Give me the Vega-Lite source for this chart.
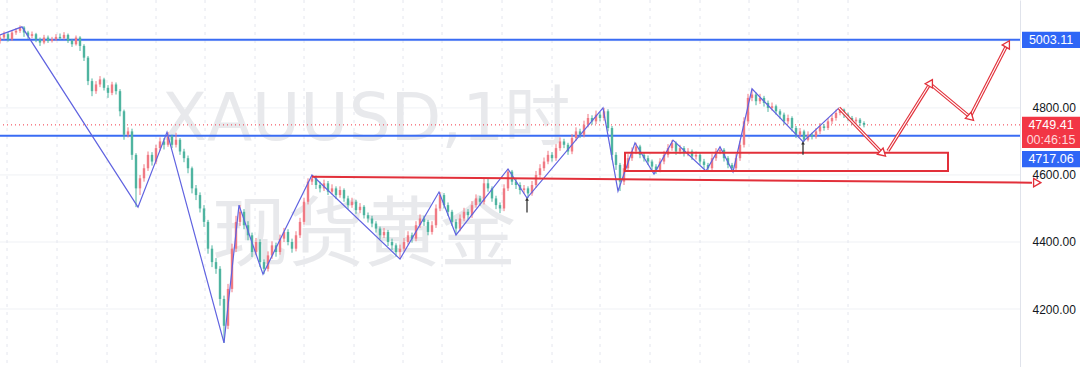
{
  "$schema": "https://vega.github.io/schema/vega-lite/v6.json",
  "width": 1020,
  "height": 367,
  "autosize": "none",
  "padding": {"left": 0, "top": 0, "right": 60, "bottom": 0},
  "background": "#ffffff",
  "config": {"view": {"stroke": null}},
  "datasets": {
    "candles": [
      {"t":0,"o":5000,"c":5010,"h":5018,"l":4992},{"t":1,"o":5010,"c":5020,"h":5028,"l":5004},{"t":2,"o":5020,"c":5005,"h":5026,"l":4998},{"t":3,"o":5005,"c":5025,"h":5032,"l":5000},{"t":4,"o":5025,"c":5030,"h":5038,"l":5018},{"t":5,"o":5030,"c":5040,"h":5046,"l":5024},{"t":6,"o":5040,"c":5025,"h":5044,"l":5012},{"t":7,"o":5025,"c":5015,"h":5030,"l":5006},{"t":8,"o":5015,"c":5020,"h":5028,"l":5008},{"t":9,"o":5020,"c":5005,"h":5024,"l":4996},
      {"t":10,"o":5005,"c":4995,"h":5010,"l":4985},{"t":11,"o":4995,"c":5010,"h":5018,"l":4990},{"t":12,"o":5010,"c":5000,"h":5016,"l":4994},{"t":13,"o":5000,"c":5005,"h":5012,"l":4995},{"t":14,"o":5005,"c":5012,"h":5020,"l":5000},{"t":15,"o":5012,"c":5008,"h":5022,"l":5002},{"t":16,"o":5008,"c":5018,"h":5026,"l":5004},{"t":17,"o":5018,"c":5000,"h":5022,"l":4994},{"t":18,"o":5000,"c":4990,"h":5006,"l":4982},{"t":19,"o":4990,"c":5010,"h":5016,"l":4986},
      {"t":20,"o":5010,"c":4985,"h":5014,"l":4970},{"t":21,"o":4985,"c":4950,"h":4990,"l":4940},{"t":22,"o":4950,"c":4880,"h":4955,"l":4868},{"t":23,"o":4880,"c":4850,"h":4888,"l":4835},{"t":24,"o":4850,"c":4870,"h":4880,"l":4842},{"t":25,"o":4870,"c":4885,"h":4895,"l":4862},{"t":26,"o":4885,"c":4860,"h":4890,"l":4852},{"t":27,"o":4860,"c":4845,"h":4868,"l":4830},{"t":28,"o":4845,"c":4870,"h":4878,"l":4838},{"t":29,"o":4870,"c":4850,"h":4876,"l":4840},
      {"t":30,"o":4850,"c":4790,"h":4856,"l":4775},{"t":31,"o":4790,"c":4720,"h":4795,"l":4705},{"t":32,"o":4720,"c":4730,"h":4742,"l":4712},{"t":33,"o":4730,"c":4660,"h":4738,"l":4645},{"t":34,"o":4660,"c":4560,"h":4665,"l":4504},{"t":35,"o":4560,"c":4590,"h":4600,"l":4540},{"t":36,"o":4590,"c":4620,"h":4632,"l":4580},{"t":37,"o":4620,"c":4660,"h":4670,"l":4612},{"t":38,"o":4660,"c":4640,"h":4668,"l":4628},{"t":39,"o":4640,"c":4680,"h":4690,"l":4632},
      {"t":40,"o":4680,"c":4700,"h":4712,"l":4672},{"t":41,"o":4700,"c":4690,"h":4710,"l":4676},{"t":42,"o":4690,"c":4715,"h":4728,"l":4684},{"t":43,"o":4715,"c":4690,"h":4720,"l":4680},{"t":44,"o":4690,"c":4705,"h":4726,"l":4682},{"t":45,"o":4705,"c":4670,"h":4710,"l":4660},{"t":46,"o":4670,"c":4650,"h":4678,"l":4638},{"t":47,"o":4650,"c":4620,"h":4658,"l":4605},{"t":48,"o":4620,"c":4560,"h":4625,"l":4545},{"t":49,"o":4560,"c":4540,"h":4570,"l":4525},
      {"t":50,"o":4540,"c":4500,"h":4548,"l":4488},{"t":51,"o":4500,"c":4460,"h":4510,"l":4445},{"t":52,"o":4460,"c":4380,"h":4466,"l":4365},{"t":53,"o":4380,"c":4340,"h":4390,"l":4325},{"t":54,"o":4340,"c":4320,"h":4352,"l":4305},{"t":55,"o":4320,"c":4230,"h":4328,"l":4210},{"t":56,"o":4230,"c":4150,"h":4240,"l":4099},{"t":57,"o":4150,"c":4260,"h":4275,"l":4140},{"t":58,"o":4260,"c":4380,"h":4395,"l":4250},{"t":59,"o":4380,"c":4460,"h":4478,"l":4370},
      {"t":60,"o":4460,"c":4490,"h":4510,"l":4448},{"t":61,"o":4490,"c":4450,"h":4498,"l":4438},{"t":62,"o":4450,"c":4420,"h":4462,"l":4405},{"t":63,"o":4420,"c":4370,"h":4428,"l":4355},{"t":64,"o":4370,"c":4400,"h":4412,"l":4360},{"t":65,"o":4400,"c":4340,"h":4408,"l":4325},{"t":66,"o":4340,"c":4320,"h":4348,"l":4304},{"t":67,"o":4320,"c":4360,"h":4372,"l":4312},{"t":68,"o":4360,"c":4390,"h":4402,"l":4350},{"t":69,"o":4390,"c":4370,"h":4398,"l":4356},
      {"t":70,"o":4370,"c":4410,"h":4422,"l":4362},{"t":71,"o":4410,"c":4430,"h":4442,"l":4400},{"t":72,"o":4430,"c":4400,"h":4438,"l":4390},{"t":73,"o":4400,"c":4380,"h":4410,"l":4368},{"t":74,"o":4380,"c":4420,"h":4432,"l":4372},{"t":75,"o":4420,"c":4460,"h":4472,"l":4412},{"t":76,"o":4460,"c":4520,"h":4532,"l":4452},{"t":77,"o":4520,"c":4580,"h":4590,"l":4512},{"t":78,"o":4580,"c":4590,"h":4600,"l":4570},{"t":79,"o":4590,"c":4570,"h":4598,"l":4558},
      {"t":80,"o":4570,"c":4560,"h":4580,"l":4548},{"t":81,"o":4560,"c":4575,"h":4586,"l":4552},{"t":82,"o":4575,"c":4550,"h":4582,"l":4540},{"t":83,"o":4550,"c":4560,"h":4572,"l":4542},{"t":84,"o":4560,"c":4540,"h":4566,"l":4528},{"t":85,"o":4540,"c":4555,"h":4566,"l":4532},{"t":86,"o":4555,"c":4530,"h":4560,"l":4520},{"t":87,"o":4530,"c":4510,"h":4538,"l":4498},{"t":88,"o":4510,"c":4520,"h":4532,"l":4502},{"t":89,"o":4520,"c":4495,"h":4526,"l":4484},
      {"t":90,"o":4495,"c":4505,"h":4516,"l":4486},{"t":91,"o":4505,"c":4480,"h":4510,"l":4470},{"t":92,"o":4480,"c":4470,"h":4488,"l":4458},{"t":93,"o":4470,"c":4455,"h":4478,"l":4444},{"t":94,"o":4455,"c":4440,"h":4462,"l":4428},{"t":95,"o":4440,"c":4420,"h":4446,"l":4408},{"t":96,"o":4420,"c":4430,"h":4442,"l":4412},{"t":97,"o":4430,"c":4400,"h":4436,"l":4388},{"t":98,"o":4400,"c":4390,"h":4410,"l":4376},{"t":99,"o":4390,"c":4370,"h":4396,"l":4356},
      {"t":100,"o":4370,"c":4380,"h":4392,"l":4349},{"t":101,"o":4380,"c":4400,"h":4412,"l":4372},{"t":102,"o":4400,"c":4420,"h":4432,"l":4392},{"t":103,"o":4420,"c":4410,"h":4428,"l":4398},{"t":104,"o":4410,"c":4450,"h":4462,"l":4402},{"t":105,"o":4450,"c":4470,"h":4482,"l":4442},{"t":106,"o":4470,"c":4460,"h":4478,"l":4448},{"t":107,"o":4460,"c":4430,"h":4466,"l":4420},{"t":108,"o":4430,"c":4450,"h":4462,"l":4422},{"t":109,"o":4450,"c":4500,"h":4512,"l":4442},
      {"t":110,"o":4500,"c":4540,"h":4549,"l":4492},{"t":111,"o":4540,"c":4510,"h":4546,"l":4500},{"t":112,"o":4510,"c":4490,"h":4518,"l":4478},{"t":113,"o":4490,"c":4460,"h":4496,"l":4448},{"t":114,"o":4460,"c":4440,"h":4468,"l":4421},{"t":115,"o":4440,"c":4470,"h":4482,"l":4432},{"t":116,"o":4470,"c":4490,"h":4502,"l":4462},{"t":117,"o":4490,"c":4480,"h":4498,"l":4468},{"t":118,"o":4480,"c":4510,"h":4522,"l":4472},{"t":119,"o":4510,"c":4530,"h":4542,"l":4502},
      {"t":120,"o":4530,"c":4520,"h":4538,"l":4508},{"t":121,"o":4520,"c":4575,"h":4588,"l":4512},{"t":122,"o":4575,"c":4560,"h":4590,"l":4550},{"t":123,"o":4560,"c":4530,"h":4566,"l":4520},{"t":124,"o":4530,"c":4510,"h":4538,"l":4498},{"t":125,"o":4510,"c":4500,"h":4518,"l":4486},{"t":126,"o":4500,"c":4560,"h":4572,"l":4492},{"t":127,"o":4560,"c":4610,"h":4618,"l":4552},{"t":128,"o":4610,"c":4580,"h":4615,"l":4570},{"t":129,"o":4580,"c":4570,"h":4590,"l":4558},
      {"t":130,"o":4570,"c":4555,"h":4578,"l":4542},{"t":131,"o":4555,"c":4560,"h":4570,"l":4544},{"t":132,"o":4560,"c":4545,"h":4566,"l":4531},{"t":133,"o":4545,"c":4570,"h":4582,"l":4538},{"t":134,"o":4570,"c":4600,"h":4612,"l":4562},{"t":135,"o":4600,"c":4620,"h":4632,"l":4592},{"t":136,"o":4620,"c":4640,"h":4652,"l":4612},{"t":137,"o":4640,"c":4660,"h":4672,"l":4632},{"t":138,"o":4660,"c":4650,"h":4668,"l":4640},{"t":139,"o":4650,"c":4680,"h":4692,"l":4642},
      {"t":140,"o":4680,"c":4700,"h":4712,"l":4672},{"t":141,"o":4700,"c":4690,"h":4708,"l":4680},{"t":142,"o":4690,"c":4670,"h":4696,"l":4660},{"t":143,"o":4670,"c":4710,"h":4722,"l":4662},{"t":144,"o":4710,"c":4730,"h":4742,"l":4702},{"t":145,"o":4730,"c":4720,"h":4738,"l":4710},{"t":146,"o":4720,"c":4750,"h":4762,"l":4712},{"t":147,"o":4750,"c":4770,"h":4782,"l":4742},{"t":148,"o":4770,"c":4760,"h":4778,"l":4750},{"t":149,"o":4760,"c":4780,"h":4792,"l":4752},
      {"t":150,"o":4780,"c":4770,"h":4788,"l":4760},{"t":151,"o":4770,"c":4790,"h":4800,"l":4762},{"t":152,"o":4790,"c":4740,"h":4796,"l":4730},{"t":153,"o":4740,"c":4660,"h":4746,"l":4645},{"t":154,"o":4660,"c":4630,"h":4668,"l":4615},{"t":155,"o":4630,"c":4580,"h":4636,"l":4552},{"t":156,"o":4580,"c":4620,"h":4632,"l":4570},{"t":157,"o":4620,"c":4650,"h":4662,"l":4612},{"t":158,"o":4650,"c":4670,"h":4682,"l":4642},{"t":159,"o":4670,"c":4685,"h":4696,"l":4662},
      {"t":160,"o":4685,"c":4660,"h":4690,"l":4650},{"t":161,"o":4660,"c":4650,"h":4668,"l":4640},{"t":162,"o":4650,"c":4640,"h":4658,"l":4630},{"t":163,"o":4640,"c":4625,"h":4646,"l":4612},{"t":164,"o":4625,"c":4615,"h":4632,"l":4603},{"t":165,"o":4615,"c":4640,"h":4650,"l":4608},{"t":166,"o":4640,"c":4660,"h":4672,"l":4632},{"t":167,"o":4660,"c":4680,"h":4692,"l":4652},{"t":168,"o":4680,"c":4695,"h":4704,"l":4672},{"t":169,"o":4695,"c":4670,"h":4700,"l":4660},
      {"t":170,"o":4670,"c":4680,"h":4690,"l":4662},{"t":171,"o":4680,"c":4665,"h":4686,"l":4655},{"t":172,"o":4665,"c":4670,"h":4680,"l":4656},{"t":173,"o":4670,"c":4655,"h":4676,"l":4645},{"t":174,"o":4655,"c":4660,"h":4670,"l":4646},{"t":175,"o":4660,"c":4640,"h":4665,"l":4630},{"t":176,"o":4640,"c":4630,"h":4648,"l":4618},{"t":177,"o":4630,"c":4620,"h":4636,"l":4612},{"t":178,"o":4620,"c":4650,"h":4662,"l":4614},{"t":179,"o":4650,"c":4670,"h":4680,"l":4642},
      {"t":180,"o":4670,"c":4675,"h":4684,"l":4662},{"t":181,"o":4675,"c":4650,"h":4680,"l":4640},{"t":182,"o":4650,"c":4630,"h":4656,"l":4620},{"t":183,"o":4630,"c":4620,"h":4636,"l":4609},{"t":184,"o":4620,"c":4650,"h":4662,"l":4612},{"t":185,"o":4650,"c":4690,"h":4702,"l":4642},{"t":186,"o":4690,"c":4760,"h":4772,"l":4682},{"t":187,"o":4760,"c":4830,"h":4842,"l":4752},{"t":188,"o":4830,"c":4840,"h":4857,"l":4820},{"t":189,"o":4840,"c":4820,"h":4846,"l":4808},
      {"t":190,"o":4820,"c":4830,"h":4842,"l":4812},{"t":191,"o":4830,"c":4815,"h":4836,"l":4804},{"t":192,"o":4815,"c":4800,"h":4822,"l":4788},{"t":193,"o":4800,"c":4805,"h":4816,"l":4792},{"t":194,"o":4805,"c":4790,"h":4810,"l":4780},{"t":195,"o":4790,"c":4780,"h":4796,"l":4768},{"t":196,"o":4780,"c":4760,"h":4786,"l":4750},{"t":197,"o":4760,"c":4770,"h":4780,"l":4752},{"t":198,"o":4770,"c":4740,"h":4775,"l":4730},{"t":199,"o":4740,"c":4720,"h":4746,"l":4710},
      {"t":200,"o":4720,"c":4730,"h":4740,"l":4712},{"t":201,"o":4730,"c":4705,"h":4735,"l":4699},{"t":202,"o":4705,"c":4720,"h":4730,"l":4700},{"t":203,"o":4720,"c":4715,"h":4726,"l":4706},{"t":204,"o":4715,"c":4730,"h":4740,"l":4708},{"t":205,"o":4730,"c":4745,"h":4755,"l":4722},{"t":206,"o":4745,"c":4740,"h":4752,"l":4732},{"t":207,"o":4740,"c":4760,"h":4770,"l":4734},{"t":208,"o":4760,"c":4770,"h":4780,"l":4752},{"t":209,"o":4770,"c":4785,"h":4795,"l":4762},
      {"t":210,"o":4785,"c":4795,"h":4800,"l":4778},{"t":211,"o":4795,"c":4780,"h":4798,"l":4770},{"t":212,"o":4780,"c":4770,"h":4786,"l":4762},{"t":213,"o":4770,"c":4760,"h":4776,"l":4750},{"t":214,"o":4760,"c":4765,"h":4772,"l":4752},{"t":215,"o":4765,"c":4755,"h":4770,"l":4746},{"t":216,"o":4755,"c":4749.41,"h":4760,"l":4742}
    ],
    "zigzag": [
      {"t":0,"p":5018},{"t":5.5,"p":5042},{"t":34.5,"p":4504},{"t":41.75,"p":4728},{"t":56,"p":4099},{"t":59.75,"p":4510},{"t":65.75,"p":4304},{"t":78,"p":4600},{"t":100,"p":4349},{"t":109.75,"p":4549},{"t":114,"p":4421},{"t":127,"p":4618},{"t":131.75,"p":4531},{"t":150.75,"p":4800},{"t":154.5,"p":4552},{"t":158.75,"p":4696},{"t":163.5,"p":4603},{"t":168.25,"p":4704},{"t":176.5,"p":4612},{"t":180,"p":4684},{"t":183.25,"p":4609},{"t":188,"p":4857},{"t":200.75,"p":4699},{"t":209.75,"p":4800}
    ],
    "arrows": [
      {"a":"2","t":209.75,"p":4800},{"a":"2","t":220.5,"p":4666},
      {"a":"3","t":222,"p":4672},{"a":"3","t":232.5,"p":4872},
      {"a":"4","t":232.5,"p":4872},{"a":"4","t":242.5,"p":4773},
      {"a":"5","t":242.5,"p":4773},{"a":"5","t":251.75,"p":4988}
    ]
  },
  "layer": [
    {
      "data": {"values": [{"g":4200},{"g":4400},{"g":4600},{"g":4800},{"g":5000}]},
      "mark": {"type": "rule", "color": "#eff1f5", "strokeWidth": 1},
      "encoding": {"y": {"field": "g", "type": "quantitative", "scale": {"domain": [4027, 5122], "nice": false, "zero": false},
        "axis": {"orient": "right", "values": [4200, 4400, 4600, 4800], "format": ".2f", "grid": false, "ticks": false, "domainColor": "#e0e3eb", "domainWidth": 1, "labelPadding": 12, "labelFontSize": 12, "labelColor": "#131722", "labelFont": "Liberation Sans", "title": null}}}
    },
    {
      "data": {"values": [{"g":1.75},{"g":14.25},{"g":26.75},{"g":39},{"g":51.25},{"g":63.75},{"g":76},{"g":88.5},{"g":100.75},{"g":110.5},{"g":125.5},{"g":138},{"g":150},{"g":162.5},{"g":175},{"g":187.25},{"g":199.5},{"g":212}]},
      "mark": {"type": "rule", "color": "#e4e6ee", "strokeWidth": 1, "strokeDash": [3, 5]},
      "encoding": {"x": {"field": "g", "type": "quantitative", "scale": {"domain": [0, 255], "nice": false, "zero": false}, "axis": null}}
    },
    {
      "data": {"values": [{"label": "XAUUSD,1时", "t": 91.5, "p": 4704}]},
      "mark": {"type": "text", "font": "DejaVu Sans, Noto Sans CJK SC", "fontSize": 66, "color": "#e8e9ec", "align": "center", "baseline": "alphabetic"},
      "encoding": {
        "x": {"field": "t", "type": "quantitative", "scale": {"domain": [0, 255], "nice": false, "zero": false}, "axis": null},
        "y": {"field": "p", "type": "quantitative", "scale": {"domain": [4027, 5122], "nice": false, "zero": false},
          "axis": {"orient": "right", "values": [4200, 4400, 4600, 4800], "format": ".2f", "grid": false, "ticks": false, "domainColor": "#e0e3eb", "domainWidth": 1, "labelPadding": 12, "labelFontSize": 12, "labelColor": "#131722", "labelFont": "Liberation Sans", "title": null}},
        "text": {"field": "label"}
      }
    },
    {
      "data": {"values": [{"label": "现货黄金", "t": 91, "p": 4415}]},
      "mark": {"type": "text", "font": "Noto Sans CJK SC", "fontSize": 76, "color": "#e8e9ec", "align": "center", "baseline": "middle"},
      "encoding": {
        "x": {"field": "t", "type": "quantitative", "scale": {"domain": [0, 255], "nice": false, "zero": false}, "axis": null},
        "y": {"field": "p", "type": "quantitative", "scale": {"domain": [4027, 5122], "nice": false, "zero": false},
          "axis": {"orient": "right", "values": [4200, 4400, 4600, 4800], "format": ".2f", "grid": false, "ticks": false, "domainColor": "#e0e3eb", "domainWidth": 1, "labelPadding": 12, "labelFontSize": 12, "labelColor": "#131722", "labelFont": "Liberation Sans", "title": null}},
        "text": {"field": "label"}
      }
    },
    {
      "data": {"values": [{"p": 4749.41}]},
      "mark": {"type": "rule", "color": "#f23645", "strokeWidth": 1, "strokeDash": [1, 3]},
      "encoding": {"y": {"field": "p", "type": "quantitative", "scale": {"domain": [4027, 5122], "nice": false, "zero": false},
        "axis": {"orient": "right", "values": [4200, 4400, 4600, 4800], "format": ".2f", "grid": false, "ticks": false, "domainColor": "#e0e3eb", "domainWidth": 1, "labelPadding": 12, "labelFontSize": 12, "labelColor": "#131722", "labelFont": "Liberation Sans", "title": null}}}
    },
    {
      "data": {"values": [{"p": 5003.11}, {"p": 4717.06}]},
      "mark": {"type": "rule", "color": "#3a6cf4", "strokeWidth": 2},
      "encoding": {"y": {"field": "p", "type": "quantitative", "scale": {"domain": [4027, 5122], "nice": false, "zero": false},
        "axis": {"orient": "right", "values": [4200, 4400, 4600, 4800], "format": ".2f", "grid": false, "ticks": false, "domainColor": "#e0e3eb", "domainWidth": 1, "labelPadding": 12, "labelFontSize": 12, "labelColor": "#131722", "labelFont": "Liberation Sans", "title": null}}}
    },
    {
      "data": {"name": "candles"},
      "mark": {"type": "rule", "strokeWidth": 1},
      "encoding": {
        "x": {"field": "t", "type": "quantitative", "scale": {"domain": [0, 255], "nice": false, "zero": false}, "axis": null},
        "y": {"field": "l", "type": "quantitative", "scale": {"domain": [4027, 5122], "nice": false, "zero": false},
          "axis": {"orient": "right", "values": [4200, 4400, 4600, 4800], "format": ".2f", "grid": false, "ticks": false, "domainColor": "#e0e3eb", "domainWidth": 1, "labelPadding": 12, "labelFontSize": 12, "labelColor": "#131722", "labelFont": "Liberation Sans", "title": null}},
        "y2": {"field": "h"},
        "color": {"condition": {"test": "datum.c >= datum.o", "value": "#f07a84"}, "value": "#4fb4a0"}
      }
    },
    {
      "data": {"name": "candles"},
      "mark": {"type": "rule", "strokeWidth": 2.4},
      "encoding": {
        "x": {"field": "t", "type": "quantitative", "scale": {"domain": [0, 255], "nice": false, "zero": false}, "axis": null},
        "y": {"field": "o", "type": "quantitative", "scale": {"domain": [4027, 5122], "nice": false, "zero": false},
          "axis": {"orient": "right", "values": [4200, 4400, 4600, 4800], "format": ".2f", "grid": false, "ticks": false, "domainColor": "#e0e3eb", "domainWidth": 1, "labelPadding": 12, "labelFontSize": 12, "labelColor": "#131722", "labelFont": "Liberation Sans", "title": null}},
        "y2": {"field": "c"},
        "color": {"condition": {"test": "datum.c >= datum.o", "value": "#f07a84"}, "value": "#4fb4a0"}
      }
    },
    {
      "data": {"name": "zigzag"},
      "mark": {"type": "line", "color": "#6063e0", "strokeWidth": 1.2},
      "encoding": {
        "x": {"field": "t", "type": "quantitative", "scale": {"domain": [0, 255], "nice": false, "zero": false}, "axis": null},
        "y": {"field": "p", "type": "quantitative", "scale": {"domain": [4027, 5122], "nice": false, "zero": false},
          "axis": {"orient": "right", "values": [4200, 4400, 4600, 4800], "format": ".2f", "grid": false, "ticks": false, "domainColor": "#e0e3eb", "domainWidth": 1, "labelPadding": 12, "labelFontSize": 12, "labelColor": "#131722", "labelFont": "Liberation Sans", "title": null}}
      }
    },
    {
      "data": {"values": [{"t1": 156.25, "t2": 237, "p1": 4666, "p2": 4612}]},
      "mark": {"type": "rect", "filled": false, "stroke": "#e2303a", "strokeWidth": 2},
      "encoding": {
        "x": {"field": "t1", "type": "quantitative", "scale": {"domain": [0, 255], "nice": false, "zero": false}, "axis": null},
        "x2": {"field": "t2"},
        "y": {"field": "p1", "type": "quantitative", "scale": {"domain": [4027, 5122], "nice": false, "zero": false},
          "axis": {"orient": "right", "values": [4200, 4400, 4600, 4800], "format": ".2f", "grid": false, "ticks": false, "domainColor": "#e0e3eb", "domainWidth": 1, "labelPadding": 12, "labelFontSize": 12, "labelColor": "#131722", "labelFont": "Liberation Sans", "title": null}},
        "y2": {"field": "p2"}
      }
    },
    {
      "data": {"values": [{"t": 78, "p": 4595}, {"t": 258, "p": 4577}]},
      "mark": {"type": "line", "color": "#e2303a", "strokeWidth": 2},
      "encoding": {
        "x": {"field": "t", "type": "quantitative", "scale": {"domain": [0, 255], "nice": false, "zero": false}, "axis": null},
        "y": {"field": "p", "type": "quantitative", "scale": {"domain": [4027, 5122], "nice": false, "zero": false},
          "axis": {"orient": "right", "values": [4200, 4400, 4600, 4800], "format": ".2f", "grid": false, "ticks": false, "domainColor": "#e0e3eb", "domainWidth": 1, "labelPadding": 12, "labelFontSize": 12, "labelColor": "#131722", "labelFont": "Liberation Sans", "title": null}}
      }
    },
    {
      "data": {"name": "arrows"},
      "mark": {"type": "line", "color": "#e2303a", "strokeWidth": 3.4},
      "encoding": {
        "x": {"field": "t", "type": "quantitative", "scale": {"domain": [0, 255], "nice": false, "zero": false}, "axis": null},
        "y": {"field": "p", "type": "quantitative", "scale": {"domain": [4027, 5122], "nice": false, "zero": false},
          "axis": {"orient": "right", "values": [4200, 4400, 4600, 4800], "format": ".2f", "grid": false, "ticks": false, "domainColor": "#e0e3eb", "domainWidth": 1, "labelPadding": 12, "labelFontSize": 12, "labelColor": "#131722", "labelFont": "Liberation Sans", "title": null}},
        "detail": {"field": "a"}
      }
    },
    {
      "data": {"name": "arrows"},
      "mark": {"type": "line", "color": "#ffffff", "strokeWidth": 1.1},
      "encoding": {
        "x": {"field": "t", "type": "quantitative", "scale": {"domain": [0, 255], "nice": false, "zero": false}, "axis": null},
        "y": {"field": "p", "type": "quantitative", "scale": {"domain": [4027, 5122], "nice": false, "zero": false},
          "axis": {"orient": "right", "values": [4200, 4400, 4600, 4800], "format": ".2f", "grid": false, "ticks": false, "domainColor": "#e0e3eb", "domainWidth": 1, "labelPadding": 12, "labelFontSize": 12, "labelColor": "#131722", "labelFont": "Liberation Sans", "title": null}},
        "detail": {"field": "a"}
      }
    },
    {
      "data": {"values": [{"t": 259, "p": 4577}]},
      "mark": {"type": "point", "shape": "triangle", "size": 70, "angle": 90, "filled": true, "fill": "#ffffff", "stroke": "#e2303a", "strokeWidth": 1.3, "opacity": 1},
      "encoding": {
        "x": {"field": "t", "type": "quantitative", "scale": {"domain": [0, 255], "nice": false, "zero": false}, "axis": null},
        "y": {"field": "p", "type": "quantitative", "scale": {"domain": [4027, 5122], "nice": false, "zero": false},
          "axis": {"orient": "right", "values": [4200, 4400, 4600, 4800], "format": ".2f", "grid": false, "ticks": false, "domainColor": "#e0e3eb", "domainWidth": 1, "labelPadding": 12, "labelFontSize": 12, "labelColor": "#131722", "labelFont": "Liberation Sans", "title": null}}
      }
    },
    {
      "data": {"values": [{"t": 220.5, "p": 4666}, {"t": 242.5, "p": 4773}]},
      "mark": {"type": "point", "shape": "triangle", "size": 70, "angle": 133, "filled": true, "fill": "#ffffff", "stroke": "#e2303a", "strokeWidth": 1.3, "opacity": 1},
      "encoding": {
        "x": {"field": "t", "type": "quantitative", "scale": {"domain": [0, 255], "nice": false, "zero": false}, "axis": null},
        "y": {"field": "p", "type": "quantitative", "scale": {"domain": [4027, 5122], "nice": false, "zero": false},
          "axis": {"orient": "right", "values": [4200, 4400, 4600, 4800], "format": ".2f", "grid": false, "ticks": false, "domainColor": "#e0e3eb", "domainWidth": 1, "labelPadding": 12, "labelFontSize": 12, "labelColor": "#131722", "labelFont": "Liberation Sans", "title": null}}
      }
    },
    {
      "data": {"values": [{"t": 232.5, "p": 4872}, {"t": 251.75, "p": 4988}]},
      "mark": {"type": "point", "shape": "triangle", "size": 70, "angle": 30, "filled": true, "fill": "#ffffff", "stroke": "#e2303a", "strokeWidth": 1.3, "opacity": 1},
      "encoding": {
        "x": {"field": "t", "type": "quantitative", "scale": {"domain": [0, 255], "nice": false, "zero": false}, "axis": null},
        "y": {"field": "p", "type": "quantitative", "scale": {"domain": [4027, 5122], "nice": false, "zero": false},
          "axis": {"orient": "right", "values": [4200, 4400, 4600, 4800], "format": ".2f", "grid": false, "ticks": false, "domainColor": "#e0e3eb", "domainWidth": 1, "labelPadding": 12, "labelFontSize": 12, "labelColor": "#131722", "labelFont": "Liberation Sans", "title": null}}
      }
    },
    {
      "data": {"values": [{"t": 131.75, "p1": 4488, "p2": 4528}, {"t": 200.75, "p1": 4660, "p2": 4696}]},
      "mark": {"type": "rule", "color": "#333333", "strokeWidth": 1.3},
      "encoding": {
        "x": {"field": "t", "type": "quantitative", "scale": {"domain": [0, 255], "nice": false, "zero": false}, "axis": null},
        "y": {"field": "p1", "type": "quantitative", "scale": {"domain": [4027, 5122], "nice": false, "zero": false},
          "axis": {"orient": "right", "values": [4200, 4400, 4600, 4800], "format": ".2f", "grid": false, "ticks": false, "domainColor": "#e0e3eb", "domainWidth": 1, "labelPadding": 12, "labelFontSize": 12, "labelColor": "#131722", "labelFont": "Liberation Sans", "title": null}},
        "y2": {"field": "p2"}
      }
    },
    {
      "data": {"values": [{"t": 131.75, "p": 4528}, {"t": 200.75, "p": 4696}]},
      "mark": {"type": "point", "shape": "triangle-up", "size": 14, "filled": true, "color": "#333333", "opacity": 1},
      "encoding": {
        "x": {"field": "t", "type": "quantitative", "scale": {"domain": [0, 255], "nice": false, "zero": false}, "axis": null},
        "y": {"field": "p", "type": "quantitative", "scale": {"domain": [4027, 5122], "nice": false, "zero": false},
          "axis": {"orient": "right", "values": [4200, 4400, 4600, 4800], "format": ".2f", "grid": false, "ticks": false, "domainColor": "#e0e3eb", "domainWidth": 1, "labelPadding": 12, "labelFontSize": 12, "labelColor": "#131722", "labelFont": "Liberation Sans", "title": null}}
      }
    },
    {
      "data": {"values": [{"t": 262.75, "p": 5003.11, "kind": "blue"}, {"t": 262.75, "p": 4749.41, "kind": "red"}]},
      "mark": {"type": "point", "shape": "M-1,-0.28L1,-0.28L1,0.28L-1,0.28Z", "size": 3364, "filled": true, "opacity": 1, "strokeWidth": 0},
      "encoding": {
        "x": {"field": "t", "type": "quantitative", "scale": {"domain": [0, 255], "nice": false, "zero": false}, "axis": null},
        "y": {"field": "p", "type": "quantitative", "scale": {"domain": [4027, 5122], "nice": false, "zero": false},
          "axis": {"orient": "right", "values": [4200, 4400, 4600, 4800], "format": ".2f", "grid": false, "ticks": false, "domainColor": "#e0e3eb", "domainWidth": 1, "labelPadding": 12, "labelFontSize": 12, "labelColor": "#131722", "labelFont": "Liberation Sans", "title": null}},
        "color": {"field": "kind", "type": "nominal", "scale": {"domain": ["blue", "red"], "range": ["#2f66f6", "#f23645"]}, "legend": null}
      }
    },
    {
      "data": {"values": [{"t": 262.75, "p": 4749.41}]},
      "mark": {"type": "point", "shape": "M-1,-0.28L1,-0.28L1,0.28L-1,0.28Z", "size": 3364, "filled": true, "opacity": 1, "strokeWidth": 0, "color": "#f23645", "yOffset": 15},
      "encoding": {
        "x": {"field": "t", "type": "quantitative", "scale": {"domain": [0, 255], "nice": false, "zero": false}, "axis": null},
        "y": {"field": "p", "type": "quantitative", "scale": {"domain": [4027, 5122], "nice": false, "zero": false},
          "axis": {"orient": "right", "values": [4200, 4400, 4600, 4800], "format": ".2f", "grid": false, "ticks": false, "domainColor": "#e0e3eb", "domainWidth": 1, "labelPadding": 12, "labelFontSize": 12, "labelColor": "#131722", "labelFont": "Liberation Sans", "title": null}}
      }
    },
    {
      "data": {"values": [{"t": 262.75, "p": 4717.06}]},
      "mark": {"type": "point", "shape": "M-1,-0.28L1,-0.28L1,0.28L-1,0.28Z", "size": 3364, "filled": true, "opacity": 1, "strokeWidth": 0, "color": "#2f66f6", "yOffset": 23.5},
      "encoding": {
        "x": {"field": "t", "type": "quantitative", "scale": {"domain": [0, 255], "nice": false, "zero": false}, "axis": null},
        "y": {"field": "p", "type": "quantitative", "scale": {"domain": [4027, 5122], "nice": false, "zero": false},
          "axis": {"orient": "right", "values": [4200, 4400, 4600, 4800], "format": ".2f", "grid": false, "ticks": false, "domainColor": "#e0e3eb", "domainWidth": 1, "labelPadding": 12, "labelFontSize": 12, "labelColor": "#131722", "labelFont": "Liberation Sans", "title": null}}
      }
    },
    {
      "data": {"values": [{"t": 262.75, "p": 5003.11, "label": "5003.11"}, {"t": 262.75, "p": 4749.41, "label": "4749.41"}]},
      "mark": {"type": "text", "font": "Liberation Sans", "fontSize": 12.5, "color": "#ffffff", "align": "center", "baseline": "middle"},
      "encoding": {
        "x": {"field": "t", "type": "quantitative", "scale": {"domain": [0, 255], "nice": false, "zero": false}, "axis": null},
        "y": {"field": "p", "type": "quantitative", "scale": {"domain": [4027, 5122], "nice": false, "zero": false},
          "axis": {"orient": "right", "values": [4200, 4400, 4600, 4800], "format": ".2f", "grid": false, "ticks": false, "domainColor": "#e0e3eb", "domainWidth": 1, "labelPadding": 12, "labelFontSize": 12, "labelColor": "#131722", "labelFont": "Liberation Sans", "title": null}},
        "text": {"field": "label"}
      }
    },
    {
      "data": {"values": [{"t": 262.75, "p": 4749.41, "label": "00:46:15"}]},
      "mark": {"type": "text", "font": "Liberation Sans", "fontSize": 12.5, "color": "#ffd6d9", "align": "center", "baseline": "middle", "yOffset": 15},
      "encoding": {
        "x": {"field": "t", "type": "quantitative", "scale": {"domain": [0, 255], "nice": false, "zero": false}, "axis": null},
        "y": {"field": "p", "type": "quantitative", "scale": {"domain": [4027, 5122], "nice": false, "zero": false},
          "axis": {"orient": "right", "values": [4200, 4400, 4600, 4800], "format": ".2f", "grid": false, "ticks": false, "domainColor": "#e0e3eb", "domainWidth": 1, "labelPadding": 12, "labelFontSize": 12, "labelColor": "#131722", "labelFont": "Liberation Sans", "title": null}},
        "text": {"field": "label"}
      }
    },
    {
      "data": {"values": [{"t": 262.75, "p": 4717.06, "label": "4717.06"}]},
      "mark": {"type": "text", "font": "Liberation Sans", "fontSize": 12.5, "color": "#ffffff", "align": "center", "baseline": "middle", "yOffset": 23.5},
      "encoding": {
        "x": {"field": "t", "type": "quantitative", "scale": {"domain": [0, 255], "nice": false, "zero": false}, "axis": null},
        "y": {"field": "p", "type": "quantitative", "scale": {"domain": [4027, 5122], "nice": false, "zero": false},
          "axis": {"orient": "right", "values": [4200, 4400, 4600, 4800], "format": ".2f", "grid": false, "ticks": false, "domainColor": "#e0e3eb", "domainWidth": 1, "labelPadding": 12, "labelFontSize": 12, "labelColor": "#131722", "labelFont": "Liberation Sans", "title": null}},
        "text": {"field": "label"}
      }
    }
  ]
}
